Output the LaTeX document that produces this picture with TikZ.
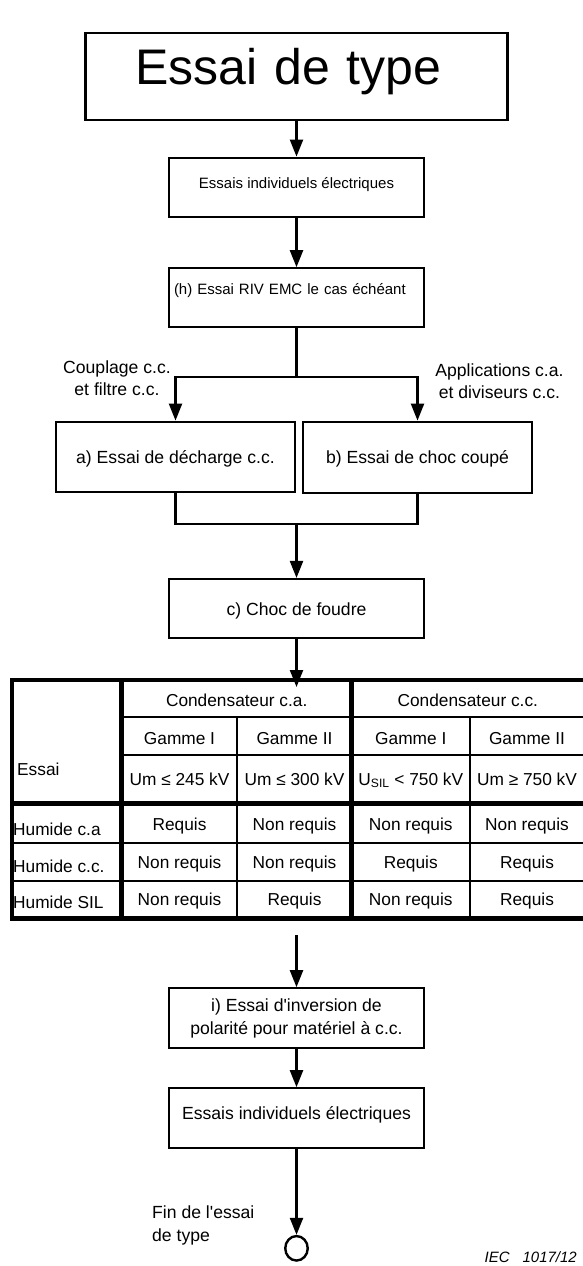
\documentclass[tikz,border=0pt]{standalone}
\usepackage{fontspec}
\setmainfont{Liberation Sans}
\usetikzlibrary{arrows.meta,shapes.geometric}
\begin{document}
\begin{tikzpicture}[x=1pt,y=-1pt,
  box/.style={draw, line width=2.2pt, inner sep=0pt, align=center},
  fA/.style={font=\fontsize{17.6}{22.3}\selectfont},
  fB/.style={font=\fontsize{15}{18}\selectfont},
  capc/.style={text height=12.6pt, text depth=#1},
  capb/.style={text height=10.7pt, text depth=#1},
  arr/.style={line width=2.2pt, -{Triangle[length=17pt,width=13pt]}},
  ln/.style={line width=2.2pt},
  thk/.style={line width=4.5pt},
  thn/.style={line width=1.7pt},
  cell/.style={font=\fontsize{17.3}{20}\selectfont, text height=12.4pt, text depth=0pt, inner sep=0pt},
  lab/.style={font=\fontsize{17.6}{22.3}\selectfont, align=center, inner sep=0pt},
]
\useasboundingbox (0,0) rectangle (583,1266);

% flow boxes
\node[box, minimum width=422pt, minimum height=87pt, text width=422pt, align=left,
      font=\fontsize{50}{60}\selectfont, text height=35.8pt, text depth=19pt]
      (title) at (296.5,76.5) {\hspace*{50pt}Essai de type};
\node[box, fB, capb=8.4pt, minimum width=255pt, minimum height=59.6pt]
      (ind1) at (296.5,187.5) {Essais individuels électriques};
\node[box, fB, capb=17pt, minimum width=255pt, minimum height=59pt,
      text width=245pt, inner xsep=5pt, align=left]
      (riv) at (296.5,297.8) {(h) Essai RIV EMC le cas échéant};
\coordinate (split) at (296.5,377.3);
\node[box, fA, capc=0pt, minimum width=239pt, minimum height=70pt]
      (boxa) at (175.5,456.7) {a) Essai de décharge c.c.};
\node[box, fA, capc=0pt, minimum width=229.6pt, minimum height=71pt]
      (boxb) at (417.5,457.2) {b) Essai de choc coupé};
\coordinate (merge) at (296.5,524.3);
\node[box, fA, capc=0pt, minimum width=254.3pt, minimum height=59.3pt]
      (foudre) at (296.5,608.7) {c) Choc de foudre};
\coordinate (tin) at (296.5,687);
\coordinate (tout) at (296.5,935);
\node[box, fA, minimum width=254.4pt, minimum height=60pt]
      (inv) at (296.5,1018.3) {i) Essai d\textquotesingle inversion de\\polarité pour matériel à c.c.};
\node[box, fA, capc=10pt, minimum width=254.4pt, minimum height=60pt]
      (ind2) at (296.5,1118.3) {Essais individuels électriques};
\node[draw, ellipse, line width=2.4pt, minimum width=22.5pt, minimum height=24.5pt, inner sep=0pt]
      (fin) at (296.5,1248.3) {};

% side labels
\node[lab] (lblL) at (117,378.5) {Couplage c.c.\\et filtre c.c.};
\node[lab] (lblR) at (499.5,381) {Applications c.a.\\et diviseurs c.c.};
\node[lab, align=left, anchor=west] (finlbl) at (152,1225.5) {Fin de l\textquotesingle essai\\de type};
\node[font=\fontsize{15}{18}\selectfont\itshape, anchor=east, inner sep=0pt]
      (iec) at (577,1257.3) {IEC\hspace{13pt}1017/12};

% connectors
\draw[arr] (title.south) -- (ind1.north);
\draw[arr] (ind1.south) -- (riv.north);
\draw[ln] (riv.south) -- (split);
\draw[arr] (split) -| (boxa.north);
\draw[arr] (split) -| (boxb.north);
\draw[ln] (boxa.south) |- (merge) -| (boxb.south);
\draw[arr] (merge) -- (foudre.north);
\draw[arr] (foudre.south) -- (tin);
\draw[arr] (tout) -- (inv.north);
\draw[arr] (inv.south) -- (ind2.north);
\draw[arr] (ind2.south) -- (fin.north);

% table grid
\draw[thn] (121.7,716.7) -- (590,716.7);
\draw[thn] (121.7,755) -- (590,755);
\draw[thn] (12,842.7) -- (590,842.7);
\draw[thn] (12,880.7) -- (590,880.7);
\draw[thn] (237.3,716.7) -- (237.3,918.3);
\draw[thn] (470,716.7) -- (470,918.3);
\draw[thk] (121.7,680) -- (121.7,918.3);
\draw[thk] (351.7,680) -- (351.7,918.3);
\draw[thk] (12,803.3) -- (590,803.3);
\draw[thk] (590,680) -| (12,918.3) -- (590,918.3);

% table texts
\node[cell] (hca) at (236.7,700.7) {Condensateur c.a.};
\node[cell] (hcc) at (467.8,700.7) {Condensateur c.c.};
\node[cell] (g1) at (179.5,738.3) {Gamme I};
\node[cell] (g2) at (294.5,738.3) {Gamme II};
\node[cell] (g3) at (410.8,738.3) {Gamme I};
\node[cell] (g4) at (527,738.3) {Gamme II};
\node[cell] (u1) at (179.5,779) {Um ≤ 245 kV};
\node[cell] (u2) at (294.5,779) {Um ≤ 300 kV};
\node[cell] (u3) at (410.8,779) {U\textsubscript{SIL} < 750 kV};
\node[cell] (u4) at (527,779) {Um ≥ 750 kV};
\node[cell, anchor=west] (essai) at (17,769.3) {Essai};
\node[cell, anchor=west] (r1) at (13,829) {Humide c.a};
\node[cell, anchor=west] (r2) at (13,866) {Humide c.c.};
\node[cell, anchor=west] (r3) at (13,902) {Humide SIL};
\node[cell] (c11) at (179.5,824) {Requis};
\node[cell] (c12) at (294.5,824) {Non requis};
\node[cell] (c13) at (410.8,824) {Non requis};
\node[cell] (c14) at (527,824) {Non requis};
\node[cell] (c21) at (179.5,862) {Non requis};
\node[cell] (c22) at (294.5,862) {Non requis};
\node[cell] (c23) at (410.8,862) {Requis};
\node[cell] (c24) at (527,862) {Requis};
\node[cell] (c31) at (179.5,899.5) {Non requis};
\node[cell] (c32) at (294.5,899.5) {Requis};
\node[cell] (c33) at (410.8,899.5) {Non requis};
\node[cell] (c34) at (527,899.5) {Requis};
\end{tikzpicture}
\end{document}
